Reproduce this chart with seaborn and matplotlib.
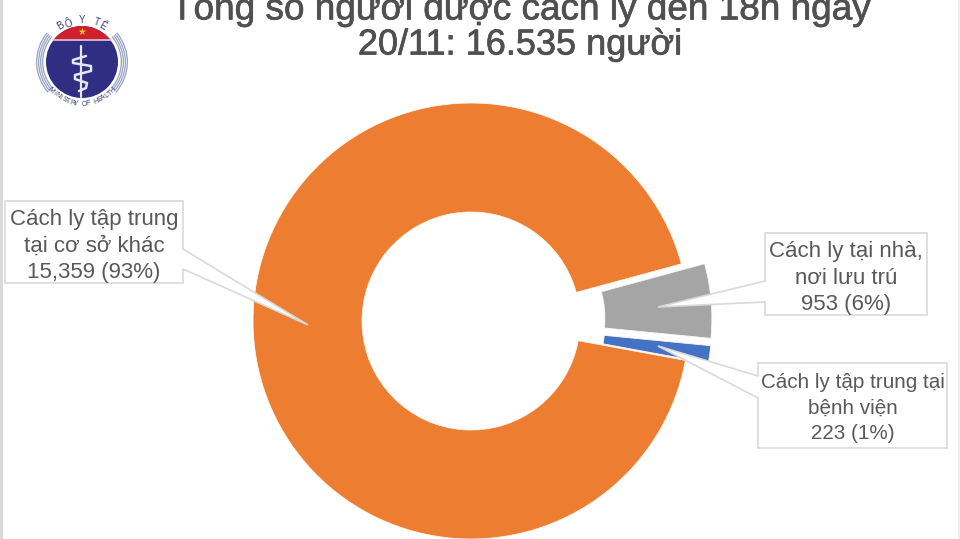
import numpy as np
import matplotlib
matplotlib.use("Agg")
import matplotlib.pyplot as plt
from matplotlib.patches import Polygon, Wedge, Circle, Rectangle
import matplotlib.patheffects as pe
import seaborn as sns

sns.set_theme(style="white")
plt.rcParams['font.family'] = ['Liberation Sans', 'DejaVu Sans']

categories = ["Cách ly tại nhà,\nnơi lưu trú", "Cách ly tập trung tại\nbệnh viện", "Cách ly tập trung\ntại cơ sở khác"]
values = [953, 223, 15359]
percent_text = ["6%", "1%", "93%"]
colors = ["#A5A5A5", "#4472C4", "#ED7D31"]
title_lines = ["Tổng số người được cách ly đến 18h ngày", "20/11: 16.535 người"]
text_col = "#595959"

W, H = 960, 539
def Y(py):
    return H - py

fig = plt.figure(figsize=(9.6, 5.39), dpi=100, facecolor="white")
ax = fig.add_axes([0, 0, 1, 1])

wedges, _ = ax.pie(values, colors=colors, explode=[33, 33, 0], startangle=15.2,
                   counterclock=False, center=(471, Y(321)), radius=218, frame=True,
                   wedgeprops=dict(width=109, edgecolor="#FFF6EE", linewidth=0.6))
wedges[0].set_radius(208)
wedges[1].set_radius(208)
wedges[0].set_width(107)
wedges[1].set_width(107)
ax.set_xlim(0, W)
ax.set_ylim(0, H)
ax.set_aspect("equal")
ax.axis("off")

# page edge
ax.add_patch(Rectangle((0, 0), 2.5, H, color="#DADADA", lw=0, zorder=1))
ax.add_patch(Rectangle((W - 2, 0), 2, H, color="#EDEDED", lw=0, zorder=1))

def callout(x0, y0, x1, y1, p1, tip, p2, side):
    if side == "right":
        pts = [(x0, y0), (x1, y0), (x1, y1), (x0, y1), (x0, p2), tip, (x0, p1)]
    else:
        pts = [(x0, y0), (x1, y0), (x1, p1), tip, (x1, p2), (x1, y1), (x0, y1)]
    ax.add_patch(Polygon([(a, Y(b)) for a, b in pts], closed=True, facecolor="white",
                         edgecolor="#D9D9D9", linewidth=1.2, zorder=5))

callout(5, 201, 183, 283, 249, (308, 325), 269, "left")
callout(765, 233, 927, 315, 281, (658, 307), 302, "right")
callout(758, 363, 947, 448, 376, (658, 346), 398, "right")

def label(i, cx, cy, size):
    txt = f"{categories[i]}\n{values[i]:,} ({percent_text[i]})"
    ax.text(cx, Y(cy), txt, ha="center", va="center", color=text_col, fontsize=size,
            linespacing=1.33 * 16 / size, zorder=6)

label(2, 94, 246, 16)
label(0, 846, 278, 16)
label(1, 853, 408, 14.9)

for line, py, fs in zip(title_lines, (8, 45), (26.6, 26)):
    ax.text(520, Y(py), line, ha="center", va="center", fontsize=fs, color="#505050", zorder=6,
            path_effects=[pe.withStroke(linewidth=0.5, foreground="#505050")])

# Logo
cx, cy = 82, Y(62)
for r in (46, 44, 42, 40):
    ax.add_patch(Wedge((cx, cy), r, 140, 222, width=1.3, color="#9AA5C4", lw=0, zorder=3))
    ax.add_patch(Wedge((cx, cy), r, -42, 40, width=1.3, color="#9AA5C4", lw=0, zorder=3))
ax.add_patch(Circle((cx, cy), 36, color="#2F2E82", lw=0, zorder=3))
top = Wedge((cx, cy), 36, 0, 180, color="#D11F2E", lw=0, zorder=4)
ax.add_patch(top)
top.set_clip_path(Rectangle((cx - 40, cy + 23), 80, 20, transform=ax.transData))
ax.plot([cx - 29, cx + 29], [cy + 22.5, cy + 22.5], color="#E8C9D0", lw=1.2, zorder=4)
ax.text(cx, cy + 30.5, "★", color="#F4C430", fontsize=7, ha="center", va="center", zorder=5,
        family="DejaVu Sans")
ax.plot([cx - 1, cx - 1], [cy + 16, cy - 35], color="#E4E6F2", lw=1.6, zorder=5)
ax.plot([cx + 4, cx - 9, cx - 9, cx + 9, cx + 9, cx - 7, cx - 7, cx + 5, cx + 4, cx - 3],
        [cy + 6, cy + 2, cy - 1, cy - 4, cy - 9, cy - 13, cy - 17, cy - 21, cy - 26, cy - 29],
        color="#E4E6F2", lw=1.8, zorder=5)

def arc_text(s, r, a0, a1, outer_top=True, size=5.4, col="#3B3F78"):
    angs = np.linspace(a0, a1, len(s))
    for ch, a in zip(s, angs):
        rad = np.deg2rad(a)
        rot = a - 90 if outer_top else a + 90
        ax.text(cx + r * np.cos(rad), cy + r * np.sin(rad), ch, rotation=rot, ha="center", va="center",
                fontsize=size, color=col, zorder=6, rotation_mode="anchor")

arc_text("BỘ Y TẾ", 42, 120, 60, True, 7)
arc_text("MINISTRY OF HEALTH", 42, 222, 318, False, 5)

fig.savefig("out.png", dpi=100, facecolor="white")
